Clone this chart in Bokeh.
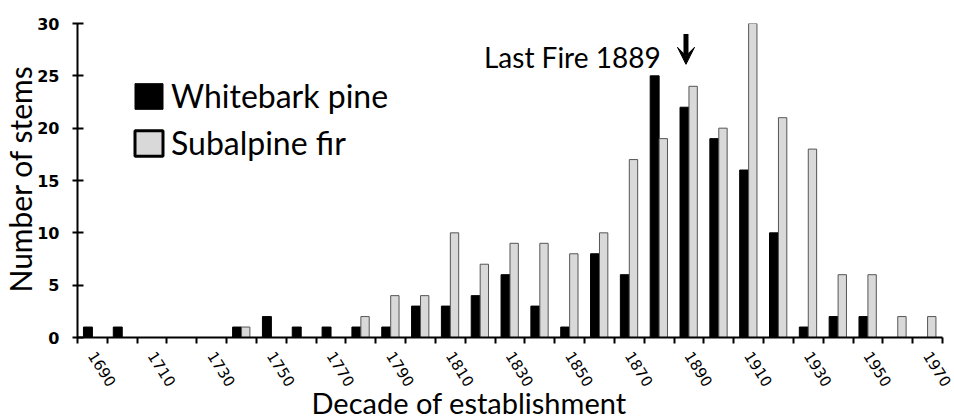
import math
from bokeh.plotting import figure
from bokeh.models import (Range1d, FixedTicker, ColumnDataSource, Legend, LegendItem,
                          Arrow, VeeHead, Label, Title)
from bokeh.transform import dodge
from bokeh.embed import file_html
from bokeh.resources import INLINE

# ---- data ----
decades = [1690, 1700, 1710, 1720, 1730, 1740, 1750, 1760, 1770, 1780,
           1790, 1800, 1810, 1820, 1830, 1840, 1850, 1860, 1870, 1880,
           1890, 1900, 1910, 1920, 1930, 1940, 1950, 1960, 1970]
whitebark_pine = [1, 1, 0, 0, 0, 1, 2, 1, 1, 1,
                  1, 3, 3, 4, 6, 3, 1, 8, 6, 25,
                  22, 19, 16, 10, 1, 2, 2, 0, 0]
subalpine_fir = [0, 0, 0, 0, 0, 1, 0, 0, 0, 2,
                 4, 4, 10, 7, 9, 9, 8, 10, 17, 19,
                 24, 20, 30, 21, 18, 6, 6, 2, 2]
tick_labels = [str(d) for d in decades[::2]]
y_ticks = [0, 5, 10, 15, 20, 25, 30]
last_fire = 1889

LABEL_FONT = "Lato"

src = ColumnDataSource(dict(decade=decades, wb=whitebark_pine, sf=subalpine_fir))

p = figure(width=954, height=420, output_backend="svg", toolbar_location=None,
           x_range=Range1d(decades[0] - 5, decades[-1] + 5),
           y_range=Range1d(0, 30),
           min_border_left=77, min_border_right=12, min_border_top=23,
           min_border_bottom=83)
p.outline_line_color = None
p.xgrid.visible = False
p.ygrid.visible = False
p.background_fill_color = "white"

p.vbar(x=dodge("decade", -1.5, range=p.x_range), top="wb", width=3.0, source=src,
       fill_color="black", line_color="black", line_width=1)
p.vbar(x=dodge("decade", 1.4, range=p.x_range), top="sf", width=2.8, source=src,
       fill_color="#d9d9d9", line_color="#555555", line_width=1)

# x axis: labels at every other decade, tick marks at decade boundaries
boundaries = [d - 5 for d in decades] + [decades[-1] + 5]
xt = FixedTicker(ticks=[int(t) for t in tick_labels], minor_ticks=boundaries)
xa = p.xaxis[0]
xa.ticker = xt
xa.major_tick_in = 0
xa.major_tick_out = 0
xa.minor_tick_in = 0
xa.minor_tick_out = 6
xa.minor_tick_line_color = "black"
xa.minor_tick_line_width = 2
xa.axis_line_color = "black"
xa.axis_line_width = 2
xa.major_label_orientation = -math.radians(58)
xa.major_label_standoff = 9
xa.major_label_text_font = "DejaVu Sans"
xa.major_label_text_font_size = "15px"
xa.major_label_text_color = "black"

ya = p.yaxis[0]
ya.ticker = FixedTicker(ticks=y_ticks, minor_ticks=[])
ya.major_tick_in = 6
ya.major_tick_out = 5
ya.major_tick_line_color = "black"
ya.major_tick_line_width = 2
ya.axis_line_color = "black"
ya.axis_line_width = 2
ya.major_label_standoff = 13
ya.major_label_text_font = "DejaVu Sans"
ya.major_label_text_font_style = "bold"
ya.major_label_text_font_size = "16px"
ya.major_label_text_color = "black"

# axis titles (as side-panel titles so they can sit off-centre like the reference)
p.add_layout(Title(text="Decade of establishment", align="left", offset=234, standoff=-24,
                   text_font=LABEL_FONT, text_font_size="29px",
                   text_font_style="normal", text_color="black"), "below")
p.add_layout(Title(text="Number of stems", align="left", offset=45, standoff=-7,
                   text_font=LABEL_FONT, text_font_size="30px",
                   text_font_style="normal", text_color="black"), "left")

# legend (swatches from placeholder renderers carrying the legend's styling)
nan = float("nan")
r_wb = p.vbar(x=[nan], top=[nan], width=3, fill_color="black", line_color="black", line_width=1)
r_sf = p.vbar(x=[nan], top=[nan], width=3, fill_color="#d9d9d9", line_color="black", line_width=3)
legend = Legend(items=[LegendItem(label="Whitebark pine", renderers=[r_wb]),
                       LegendItem(label="Subalpine fir", renderers=[r_sf])],
                location=(54, 175), glyph_width=35, glyph_height=32,
                label_text_font=LABEL_FONT, label_text_font_size="32px",
                label_text_color="black", label_standoff=5, padding=0, margin=0,
                spacing=8, border_line_color=None, background_fill_alpha=0)
p.add_layout(legend)

# annotation
p.add_layout(Arrow(end=VeeHead(size=17, fill_color="black", line_color="black", line_width=1),
                   x_start=last_fire, y_start=29.0, x_end=last_fire, y_end=26.1,
                   line_width=5, line_color="black"))
p.add_layout(Label(x=1880.5, y=26.8, text="Last Fire 1889", text_align="right",
                   text_baseline="alphabetic", text_font=LABEL_FONT,
                   text_font_size="28px", text_color="black"))

open("out.html", "w").write(file_html(p, INLINE))
